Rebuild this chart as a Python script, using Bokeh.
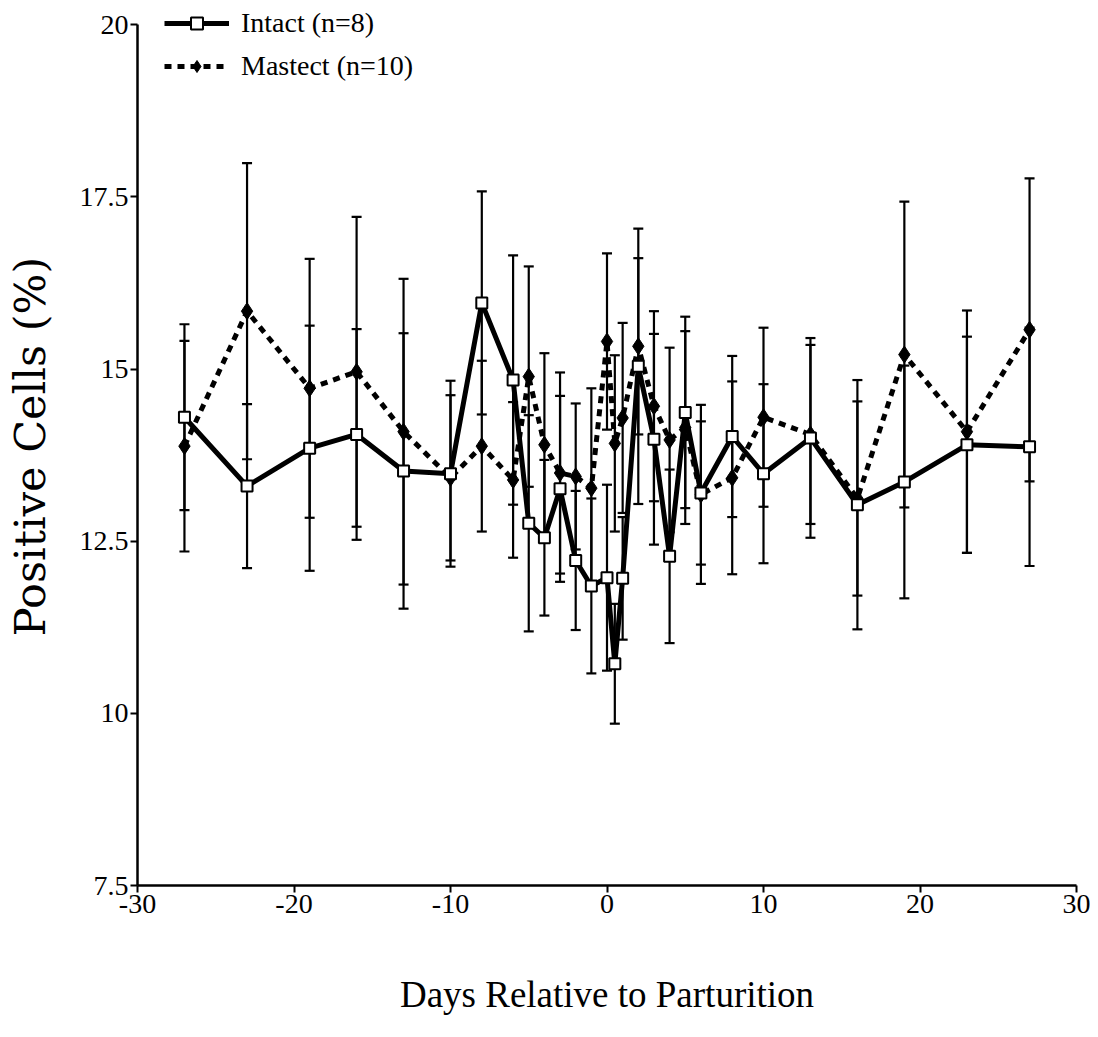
from bokeh.plotting import figure
from bokeh.models import ColumnDataSource, Whisker, TeeHead, Range1d, Legend, LegendItem, FixedTicker
from bokeh.embed import file_html
from bokeh.resources import INLINE

# ---- data ----
days = [-27, -23, -19, -16, -13, -10, -8, -6, -5, -4, -3, -2, -1, 0, 0.5, 1,
        2, 3, 4, 5, 6, 8, 10, 13, 16, 19, 23, 27]
intact_mean = [14.30, 13.30, 13.85, 14.05, 13.52, 13.48, 15.96, 14.84, 12.76, 12.55,
               13.26, 12.22, 11.85, 11.97, 10.72, 11.96, 15.04, 13.98, 12.28, 14.37,
               13.20, 14.02, 13.48, 14.00, 13.03, 13.36, 13.90, 13.87]
intact_sem = [1.35, 1.19, 1.78, 1.53, 2.00, 1.35, 1.62, 1.81, 1.57, 1.13,
              1.35, 1.01, 1.27, 1.35, 0.87, 0.89, 2.00, 1.53, 1.26, 1.39,
              1.04, 1.17, 1.30, 1.45, 1.81, 1.69, 1.57, 1.73]
mastect_mean = [13.88, 15.84, 14.72, 14.96, 14.09, 13.42, 13.88, 13.39, 14.89, 13.90,
                13.49, 13.44, 13.27, 15.40, 13.92, 14.29, 15.33, 14.46, 13.97, 14.15,
                13.18, 13.42, 14.30, 14.05, 13.12, 15.21, 14.09, 15.57]
mastect_sem = [1.53, 2.15, 1.88, 2.25, 2.22, 1.20, 1.24, 1.13, 1.60, 1.33,
               1.46, 1.06, 1.45, 1.28, 1.28, 1.38, 1.28, 1.38, 1.34, 1.40,
               1.30, 1.40, 1.30, 1.30, 1.41, 2.22, 1.76, 2.20]

x_ticks = [-30, -20, -10, 0, 10, 20, 30]
x_tick_labels = ["-30", "-20", "-10", "0", "10", "20", "30"]
y_ticks = [7.5, 10, 12.5, 15, 17.5, 20]
y_tick_labels = ["7.5", "10", "12.5", "15", "17.5", "20"]

series_names = ["Intact (n=8)", "Mastect (n=10)"]
x_title = "Days Relative to Parturition"
y_title = "Positive Cells (%)"

FONT = "Liberation Serif"

# y axis drawn from 7.5 to 20; the range extends a little above 20 so the
# legend (which sits above the 20 tick in the original) is not clipped.
p = figure(width=1090, height=1030,
           x_range=Range1d(-30, 30), y_range=Range1d(7.5, 20.25),
           output_backend="svg", toolbar_location=None,
           min_border_left=137, min_border_right=14,
           min_border_top=7, min_border_bottom=145)
p.outline_line_color = None
p.grid.visible = False
p.background_fill_color = "white"

src_i = ColumnDataSource(dict(
    x=days, y=intact_mean,
    upper=[m + e for m, e in zip(intact_mean, intact_sem)],
    lower=[m - e for m, e in zip(intact_mean, intact_sem)]))
src_m = ColumnDataSource(dict(
    x=days, y=mastect_mean,
    upper=[m + e for m, e in zip(mastect_mean, mastect_sem)],
    lower=[m - e for m, e in zip(mastect_mean, mastect_sem)]))

for src in (src_m, src_i):
    w = Whisker(base="x", upper="upper", lower="lower", source=src,
                line_color="black", line_width=2.2,
                upper_head=TeeHead(size=10, line_width=2.2, line_color="black"),
                lower_head=TeeHead(size=10, line_width=2.2, line_color="black"),
                level="underlay")
    p.add_layout(w)

lm = p.line("x", "y", source=src_m, line_color="black", line_width=5,
            line_dash="7 6")
sm = p.scatter("x", "y", source=src_m, marker="diamond", size=17,
               fill_color="black", line_color="black", line_width=1)
li = p.line("x", "y", source=src_i, line_color="black", line_width=5,
            line_join="round")
si = p.scatter("x", "y", source=src_i, marker="square", size=11,
               fill_color="white", line_color="black", line_width=2)

legend = Legend(items=[LegendItem(label=series_names[0], renderers=[li, si]),
                       LegendItem(label=series_names[1], renderers=[lm, sm])],
                location=(27, 803), margin=0, padding=0, spacing=11,
                glyph_height=30, label_height=30, glyph_width=65,
                label_standoff=12, border_line_color=None,
                background_fill_alpha=0,
                label_text_font=FONT, label_text_font_size="28px",
                label_text_color="black")
p.add_layout(legend)

# axes
p.xaxis.ticker = FixedTicker(ticks=x_ticks)
p.xaxis.major_label_overrides = dict(zip(x_ticks, x_tick_labels))
p.yaxis.ticker = FixedTicker(ticks=y_ticks)
p.yaxis.major_label_overrides = dict(zip(y_ticks, y_tick_labels))
p.yaxis.bounds = (7.5, 20)
for ax in (p.xaxis, p.yaxis):
    ax.axis_line_width = 2.5
    ax.axis_line_color = "black"
    ax.major_tick_line_width = 2
    ax.major_tick_line_color = "black"
    ax.major_tick_out = 7
    ax.major_tick_in = 0
    ax.minor_tick_line_color = None
    ax.major_label_text_font = FONT
    ax.major_label_text_font_size = "28px"
    ax.major_label_text_color = "black"
    ax.axis_label_text_color = "black"
    ax.axis_label_text_font_style = "normal"
    ax.major_label_standoff = 2

p.xaxis.axis_label = x_title
p.xaxis.axis_label_text_font = FONT
p.xaxis.axis_label_text_font_size = "37px"
p.xaxis.axis_label_standoff = 58

p.yaxis.axis_label = y_title
p.yaxis.axis_label_text_font = "DejaVu Serif"
p.yaxis.axis_label_text_font_size = "43px"
p.yaxis.axis_label_standoff = 22

open("out.html", "w").write(file_html(p, INLINE))
